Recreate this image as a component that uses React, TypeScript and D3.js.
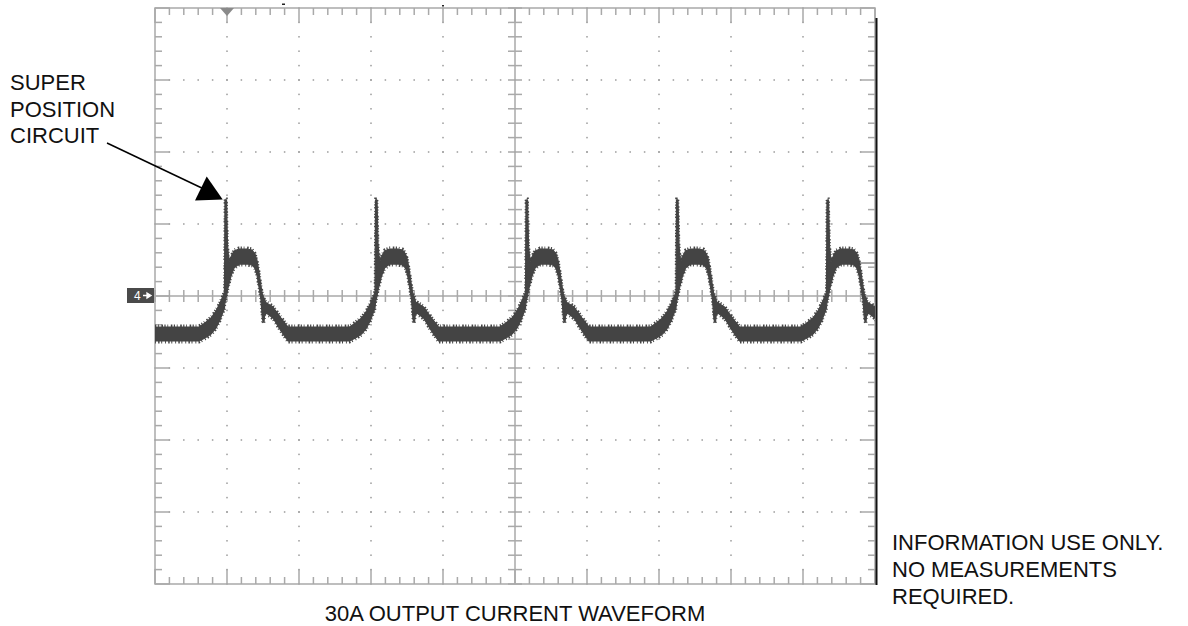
import React from 'react';
import * as d3 from 'd3';

// scope screen: 10 x 8 divisions, values below are in divisions
const triggerTimes = [0.972, 3.063, 5.153, 7.243, 9.333];
// one period of the trace, offsets from each trigger
const cycleOffsets = [-0.361, -0.278, -0.194, -0.125, -0.069, -0.028, -0.007, 0, 0.021, 0.035, 0.056, 0.083, 0.125, 0.194, 0.306, 0.375, 0.417, 0.444, 0.472, 0.5, 0.521, 0.542, 0.556, 0.667, 0.778, 0.875];
const cycleHigh = [-0.431, -0.375, -0.306, -0.208, -0.097, 0, 0.056, 1.333, 1.333, 0.708, 0.472, 0.542, 0.625, 0.653, 0.653, 0.639, 0.583, 0.5, 0.333, 0.139, 0.014, -0.028, -0.083, -0.153, -0.306, -0.431];
const cycleLow = [-0.625, -0.583, -0.528, -0.444, -0.333, -0.222, -0.167, -0.083, 0, 0.083, 0.167, 0.278, 0.389, 0.444, 0.444, 0.431, 0.389, 0.292, 0.125, -0.056, -0.333, -0.361, -0.222, -0.306, -0.486, -0.625];
const baseHigh = -0.431;
const baseLow = -0.625;
const triggerLevel = 0.458;

const calloutLines = ['SUPER', 'POSITION', 'CIRCUIT'];
const noteLines = ['INFORMATION USE ONLY.', 'NO MEASUREMENTS', 'REQUIRED.'];
const title = '30A OUTPUT CURRENT WAVEFORM';

const W = 1188;
const H = 626;
const font = '"Liberation Sans", Arial, Helvetica, sans-serif';
const gridColor = '#a9a9a9';
const traceColor = '#444';

type Pt = { t: number; hi: number; lo: number };

const App = () => {
  const x = d3.scaleLinear().domain([0, 10]).range([155, 875]);
  const y = d3.scaleLinear().domain([-4, 4]).range([584, 8]);

  const pts: Pt[] = [{ t: 0, hi: baseHigh, lo: baseLow }];
  triggerTimes.forEach((tt) => {
    cycleOffsets.forEach((o, i) => {
      pts.push({ t: tt + o, hi: cycleHigh[i], lo: cycleLow[i] });
    });
  });

  const area = d3
    .area<Pt>()
    .x((d) => x(d.t))
    .y0((d) => y(d.lo))
    .y1((d) => y(d.hi));
  const hiLine = d3.line<Pt>().x((d) => x(d.t)).y((d) => y(d.hi));
  const loLine = d3.line<Pt>().x((d) => x(d.t)).y((d) => y(d.lo));

  const xMinor = d3.range(0, 51).map((i) => i * 0.2);
  const yMinor = d3.range(0, 41).map((i) => -4 + i * 0.2);
  const isMajor = (v: number) => Math.abs(v - Math.round(v)) < 1e-6;
  const xMajor = d3.range(1, 10).filter((v) => v !== 5);
  const yMajor = d3.range(-3, 4).filter((v) => v !== 0);

  return (
    <svg width={W} height={H} style={{ position: 'absolute', left: 0, top: 0, background: '#fff' }}>
      <defs>
        <clipPath id="screen">
          <rect x={x(0)} y={y(4)} width={x(10) - x(0)} height={y(-4) - y(4)} />
        </clipPath>
      </defs>

      {/* dotted graticule */}
      <g fill="#9a9a9a">
        {xMajor.map((gx) =>
          yMinor.map((gy, j) => (
            <rect key={`v${gx}-${j}`} x={x(gx) - 0.75} y={y(gy) - 0.75} width={1.5} height={1.5} />
          ))
        )}
        {yMajor.map((gy) =>
          xMinor.map((gx, j) => (
            <rect key={`h${gy}-${j}`} x={x(gx) - 0.75} y={y(gy) - 0.75} width={1.5} height={1.5} />
          ))
        )}
      </g>

      {/* frame, centre lines and ticks */}
      <g stroke={gridColor} strokeWidth={1.5} fill="none">
        <rect x={x(0)} y={y(4)} width={x(10) - x(0)} height={y(-4) - y(4)} />
        <line x1={x(5)} x2={x(5)} y1={y(4)} y2={y(-4)} />
        <line x1={x(0)} x2={x(10)} y1={y(0)} y2={y(0)} />
        {xMinor.map((v, i) => {
          const len = isMajor(v) ? 15 : 7;
          return (
            <g key={`xt${i}`}>
              <line x1={x(v)} x2={x(v)} y1={y(4)} y2={y(4) + len} />
              <line x1={x(v)} x2={x(v)} y1={y(-4)} y2={y(-4) - len} />
              <line x1={x(v)} x2={x(v)} y1={y(0) - 6} y2={y(0) + 6} />
            </g>
          );
        })}
        {yMinor.map((v, i) => {
          const len = isMajor(v) ? 15 : 7;
          return (
            <g key={`yt${i}`}>
              <line x1={x(0)} x2={x(0) + len} y1={y(v)} y2={y(v)} />
              <line x1={x(10)} x2={x(10) - len} y1={y(v)} y2={y(v)} />
              <line x1={x(5) - 7} x2={x(5) + 7} y1={y(v)} y2={y(v)} />
            </g>
          );
        })}
      </g>
      <line x1={x(10) + 1.5} x2={x(10) + 1.5} y1={18} y2={y(-4) + 1} stroke="#111" strokeWidth={2} />

      {/* trigger position and level markers */}
      <path
        d={`M${x(1) - 7},${y(4)} L${x(1) + 7},${y(4)} L${x(1)},${y(4) + 8} Z`}
        fill="#8a8a8a"
      />
      <line x1={x(10) - 15} x2={x(10)} y1={y(triggerLevel)} y2={y(triggerLevel)} stroke="#8a8a8a" strokeWidth={1.5} />
      <rect x={282} y={3.5} width={3} height={1.5} fill="#222" />
      <rect x={442} y={5} width={2} height={1.5} fill="#222" />

      {/* channel 4 ground marker */}
      <rect x={127} y={y(0) - 8} width={27} height={15} fill="#4a4a4a" />
      <text x={134} y={y(0) + 4} fill="#fff" fontFamily={font} fontSize={12}>4</text>
      <path
        d={`M${143},${y(0) - 0.5} L${149},${y(0) - 0.5} M${147},${y(0) - 3} L${151},${y(0) - 0.5} L${147},${y(0) + 2} Z`}
        stroke="#fff"
        strokeWidth={1.3}
        fill="#fff"
      />

      {/* waveform: envelope band with fuzzy edges */}
      <g clipPath="url(#screen)">
        <path d={area(pts) ?? ''} fill={traceColor} stroke={traceColor} strokeWidth={1.2} strokeLinejoin="round" />
        <path
          d={hiLine(pts) ?? ''}
          transform="translate(0,-1.2)"
          fill="none"
          stroke={traceColor}
          strokeWidth={2.6}
          strokeDasharray="1.2 1.8 0.8 2.6 1.6 1.4"
        />
        <path
          d={loLine(pts) ?? ''}
          transform="translate(0,1.2)"
          fill="none"
          stroke={traceColor}
          strokeWidth={2.6}
          strokeDasharray="0.9 2.2 1.5 1.6 1 2.9"
        />
      </g>

      {/* callout */}
      <g fontFamily={font} fontSize={22} fill="#111">
        {calloutLines.map((s, i) => (
          <text key={s} x={10} y={90 + i * 26.7}>{s}</text>
        ))}
        {noteLines.map((s, i) => (
          <text key={s} x={892} y={549.5 + i * 27.2}>{s}</text>
        ))}
        <text x={x(5)} y={620.5} textAnchor="middle">{title}</text>
      </g>
      <line x1={107} y1={143} x2={206} y2={190} stroke="#000" strokeWidth={1.5} />
      <path d="M195,200.5 L206.7,176.5 L222.7,199.5 Z" fill="#000" />
    </svg>
  );
};

export default App;
